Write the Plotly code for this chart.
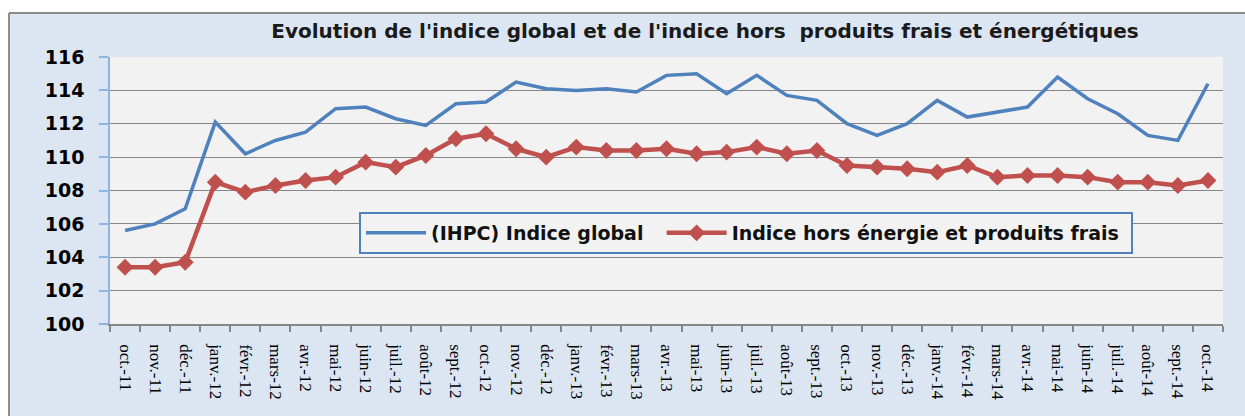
import plotly.graph_objects as go

months = ["oct.-11", "nov.-11", "déc.-11",
          "janv.-12", "févr.-12", "mars-12", "avr.-12", "mai-12", "juin-12",
          "juil.-12", "août-12", "sept.-12", "oct.-12", "nov.-12", "déc.-12",
          "janv.-13", "févr.-13", "mars-13", "avr.-13", "mai-13", "juin-13",
          "juil.-13", "août-13", "sept.-13", "oct.-13", "nov.-13", "déc.-13",
          "janv.-14", "févr.-14", "mars-14", "avr.-14", "mai-14", "juin-14",
          "juil.-14", "août-14", "sept.-14", "oct.-14"]

ihpc_global = [105.6, 106.0, 106.9,
               112.1, 110.2, 111.0, 111.5, 112.9, 113.0,
               112.3, 111.9, 113.2, 113.3, 114.5, 114.1,
               114.0, 114.1, 113.9, 114.9, 115.0, 113.8,
               114.9, 113.7, 113.4, 112.0, 111.3, 112.0,
               113.4, 112.4, 112.7, 113.0, 114.8, 113.5,
               112.6, 111.3, 111.0, 114.4]

indice_hors = [103.4, 103.4, 103.7,
               108.5, 107.9, 108.3, 108.6, 108.8, 109.7,
               109.4, 110.1, 111.1, 111.4, 110.5, 110.0,
               110.6, 110.4, 110.4, 110.5, 110.2, 110.3,
               110.6, 110.2, 110.4, 109.5, 109.4, 109.3,
               109.1, 109.5, 108.8, 108.9, 108.9, 108.8,
               108.5, 108.5, 108.3, 108.6]

y_ticks = [100, 102, 104, 106, 108, 110, 112, 114, 116]

title_text = "Evolution de l'indice global et de l'indice hors  produits frais et énergétiques"
name_global = "(IHPC) Indice global"
name_hors = "Indice hors énergie et produits frais"

W, H = 1245, 416
L, R, T, B = 110, 22, 57, 92
pw, ph = W - L - R, H - T - B

def px_x(p):
    return (p - L) / pw

def px_y(p):
    return (H - B - p) / ph

fig = go.Figure()
fig.add_trace(go.Scatter(
    x=months, y=ihpc_global, mode="lines", name=name_global + "\u00a0\u00a0",
    line=dict(color="#4f81bd", width=3.5),
))
fig.add_trace(go.Scatter(
    x=months, y=indice_hors, mode="lines+markers", name=name_hors + "\u00a0",
    line=dict(color="#c0504d", width=4.5),
    marker=dict(symbol="diamond", size=13, color="#c0504d"),
))

shapes = [
    dict(type="rect", xref="paper", yref="paper", x0=px_x(-5), x1=px_x(W + 5),
         y0=px_y(13), y1=px_y(-5), fillcolor="white", line=dict(width=0), layer="above"),
    dict(type="rect", xref="paper", yref="paper", x0=px_x(-5), x1=px_x(9),
         y0=px_y(H + 5), y1=px_y(13), fillcolor="white", line=dict(width=0), layer="above"),
    dict(type="line", xref="paper", yref="paper", x0=px_x(9), x1=px_x(W + 5),
         y0=px_y(13), y1=px_y(13), line=dict(color="#8c8c8c", width=2), layer="above"),
    dict(type="line", xref="paper", yref="paper", x0=px_x(9), x1=px_x(9),
         y0=px_y(13), y1=px_y(H + 5), line=dict(color="#8c8c8c", width=2), layer="above"),
]

fig.update_layout(
    width=W, height=H,
    margin=dict(l=L, r=R, t=T, b=B, pad=0),
    paper_bgcolor="#dce6f2",
    plot_bgcolor="#f2f2f2",
    title=dict(text=title_text, x=705 / W, xanchor="center", y=1 - 31 / H, yanchor="middle",
               font=dict(family="DejaVu Sans", size=20, color="#1a1a1a", weight="bold")),
    showlegend=True,
    legend=dict(orientation="h", x=px_x(359), xanchor="left", y=px_y(212), yanchor="top",
                bgcolor="#f2f2f2", bordercolor="#4f81bd", borderwidth=2,
                font=dict(family="DejaVu Sans", size=19, color="#111111", weight="bold"),
                itemwidth=60),
    shapes=shapes,
    xaxis=dict(
        type="category", categoryorder="array", categoryarray=months,
        tickangle=90, tickfont=dict(family="Liberation Serif", size=17, color="#000000"),
        showline=True, linecolor="#868686", linewidth=1.5,
        ticks="outside", ticklen=6, tickcolor="#868686", tickwidth=1.5,
        tickson="boundaries", showgrid=False, ticklabelstandoff=15,
        range=[-0.5, len(months) - 0.5],
    ),
    yaxis=dict(
        range=[100, 116], tickvals=y_ticks, ticktext=[str(v) for v in y_ticks],
        tickfont=dict(family="DejaVu Sans", size=19, color="#000000", weight="bold"),
        showgrid=True, gridcolor="#868686", gridwidth=1,
        showline=True, linecolor="#8eb4e3", linewidth=1.5,
        ticks="outside", ticklen=9, tickcolor="#8eb4e3", tickwidth=1.5,
        ticklabelstandoff=11, zeroline=False,
    ),
)

fig.write_html("out.html", config={"displayModeBar": False},
               post_script="document.body.style.margin='0';document.body.style.overflow='hidden';")
